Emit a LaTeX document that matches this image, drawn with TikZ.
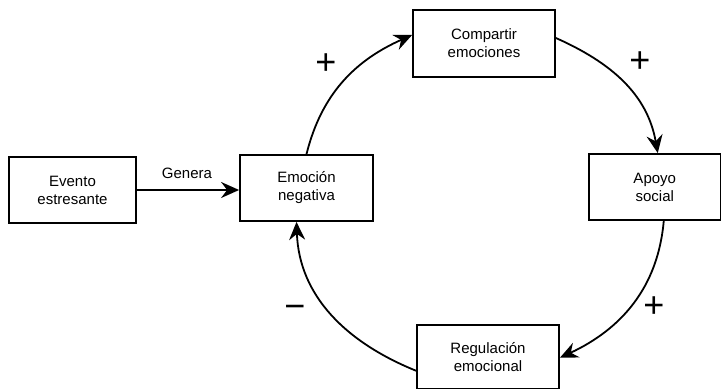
\documentclass[tikz,border=0pt]{standalone}
\usepackage{fontspec}
\setmainfont{Liberation Sans}
\usetikzlibrary{arrows.meta}
\begin{document}
\begin{tikzpicture}[x=1pt,y=1pt,
  box/.style={draw, line width=1.8pt, align=center, inner sep=0pt,
    font=\fontsize{15}{18}\selectfont},
  link/.style={line width=1.8pt, -{Stealth[length=18pt,width=16pt,inset=6pt]}},
  sign/.style={inner sep=0pt, font=\fontsize{36}{36}\selectfont,
    text height=25pt, text depth=0pt},
  lbl/.style={inner sep=0pt, anchor=base, font=\fontsize{15}{18}\selectfont}]
\useasboundingbox (0,0) rectangle (722,391);

% boxes
\node[box, minimum width=127pt, minimum height=66pt] (ev) at (72.5,201) {Evento\\estresante};
\node[box, minimum width=133pt, minimum height=66pt] (em) at (306.5,203) {Emoción\\negativa};
\node[box, minimum width=142pt, minimum height=67pt] (co) at (484,347.5) {Compartir\\emociones};
\node[box, minimum width=131.5pt, minimum height=66pt] (ap) at (654.75,204) {Apoyo\\social};
\node[box, minimum width=142pt, minimum height=63.5pt] (re) at (488,34.25) {Regulación\\emocional};

% trigger
\draw[link] (ev.east) -- (ev.east -| em.west);
\node[lbl] (gen) at (187,212) {Genera};

% feedback loop
\draw[link] (em.north) to[out=76,in=204] ([yshift=8.5pt]co.west);
\draw[link] ([yshift=5.5pt]co.east) to[out=-24,in=100] ([xshift=3pt]ap.north);
\draw[link] ([xshift=9pt]ap.south) to[out=-95,in=25] ([yshift=-1pt]re.east);
\draw[link] ([yshift=-14pt]re.west) to[out=158,in=-88] ([xshift=-10pt]em.south);

% polarity signs
\node[sign] (s1) at (326,329) {+};
\node[sign] (s2) at (640,331) {+};
\node[sign] (s3) at (654,86) {+};
\node[sign] (s4) at (295,85) {−};
\end{tikzpicture}
\end{document}
